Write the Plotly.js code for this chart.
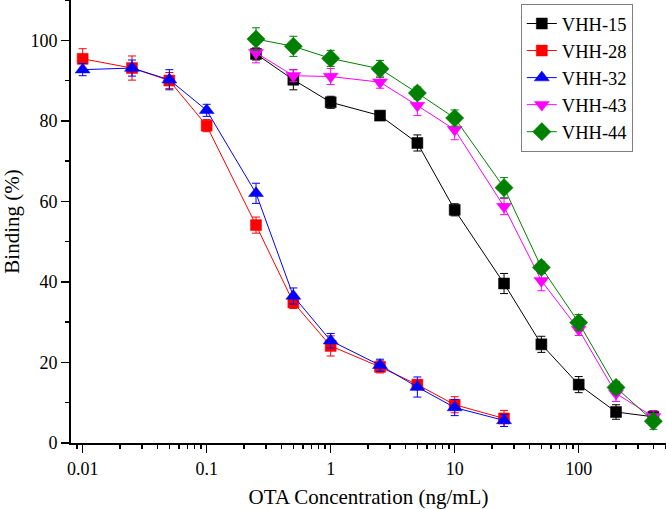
<!DOCTYPE html>
<html>
<head>
<meta charset="utf-8">
<script src="https://cdn.plot.ly/plotly-3.0.1.min.js"></script>
<style>html,body{margin:0;padding:0;background:#fff;}#chart{width:666px;height:509px;}</style>
</head>
<body>
<div id="chart"></div>
<script>
// Concentrations (ng/mL)
const concLow = [0.01, 0.025, 0.05, 0.1, 0.25, 0.5, 1, 2.5, 5, 10, 25];
const concHigh = [0.25, 0.5, 1, 2.5, 5, 10, 25, 50, 100, 200, 400];

const vhh15 = [96.6, 90.2, 84.6, 81.3, 74.5, 57.9, 39.6, 24.5, 14.5, 7.7, 6.5];
const vhh15Err = [1.5, 2.5, 1.5, 1.0, 2.0, 1.5, 2.5, 2.0, 2.0, 1.8, 1.5];

const vhh28 = [95.4, 93.1, 90.0, 78.8, 54.1, 34.9, 24.1, 18.9, 14.5, 9.5, 6.1];
const vhh28Err = [2.5, 3.0, 2.0, 1.5, 2.0, 1.5, 2.5, 1.5, 1.0, 2.0, 2.0];

const vhh32 = [92.7, 93.1, 90.2, 82.6, 62.0, 36.5, 25.4, 19.3, 13.9, 8.8, 5.6];
const vhh32Err = [1.5, 2.0, 2.5, 1.5, 2.5, 2.0, 1.8, 1.5, 2.5, 2.0, 1.5];

const vhh43 = [96.9, 91.2, 91.0, 89.6, 83.8, 77.8, 58.7, 40.3, 28.2, 12.3, 6.5];
const vhh43Err = [2.5, 1.5, 2.0, 1.5, 2.5, 2.5, 2.0, 2.5, 1.5, 2.0, 1.5];

const vhh44 = [100.3, 98.5, 95.5, 92.9, 86.9, 80.7, 63.4, 43.6, 29.9, 13.8, 5.4];
const vhh44Err = [2.8, 2.5, 2.0, 2.1, 1.5, 2.0, 2.5, 1.5, 2.0, 1.5, 2.0];

const xTicks = [0.01, 0.1, 1, 10, 100];
const xTickText = ['0.01', '0.1', '1', '10', '100'];

const FONT = 'Liberation Serif';

function series(name, x, y, err, color, symbol, size) {
  return {
    type: 'scatter', mode: 'lines+markers', name: name, x: x, y: y,
    line: {color: color, width: 1},
    marker: {color: color, symbol: symbol, size: size, line: {color: color, width: 0.5}},
    error_y: {type: 'data', array: err, visible: true, color: color, thickness: 1, width: 4},
    cliponaxis: false
  };
}

const traces = [
  series('VHH-15', concHigh, vhh15, vhh15Err, '#000000', 'square', 11),
  series('VHH-28', concLow, vhh28, vhh28Err, '#ff0000', 'square', 11),
  series('VHH-32', concLow, vhh32, vhh32Err, '#0000ff', 'triangle-up', 13),
  series('VHH-43', concHigh, vhh43, vhh43Err, '#ff00ff', 'triangle-down', 13),
  series('VHH-44', concHigh, vhh44, vhh44Err, '#008000', 'diamond', 14)
];

// minor ticks on log axis: 2..9 in every decade
const minorVals = [];
for (let e = -3; e <= 2; e++) {
  for (let m = 2; m <= 9; m++) minorVals.push(m * Math.pow(10, e));
}

const layout = {
  width: 666, height: 509,
  margin: {l: 71, r: 0, t: 0, b: 66},
  paper_bgcolor: '#ffffff', plot_bgcolor: '#ffffff',
  font: {family: FONT, color: '#000'},
  showlegend: true,
  xaxis: {
    type: 'log', range: [-2.094, 2.704],
    tickmode: 'array', tickvals: xTicks, ticktext: xTickText,
    ticks: 'outside', ticklen: 8, tickwidth: 1.5, tickcolor: '#000',
    minor: {tickmode: 'array', tickvals: minorVals, ticks: 'outside', ticklen: 4, tickwidth: 1.5, tickcolor: '#000', showgrid: false},
    showline: true, linecolor: '#000', linewidth: 2,
    showgrid: false, zeroline: false,
    tickfont: {family: FONT, size: 18, color: '#000'},
    title: {text: 'OTA Concentration (ng/mL)', font: {family: FONT, size: 21, color: '#000'}, standoff: 14}
  },
  yaxis: {
    range: [0, 110], tickmode: 'linear', tick0: 0, dtick: 20,
    ticks: 'outside', ticklen: 8, tickwidth: 1.5, tickcolor: '#000',
    minor: {dtick: 10, ticks: 'outside', ticklen: 4, tickwidth: 1.5, tickcolor: '#000', showgrid: false},
    showline: true, linecolor: '#000', linewidth: 2,
    showgrid: false, zeroline: false,
    tickfont: {family: FONT, size: 18, color: '#000'},
    title: {text: 'Binding (%)', font: {family: FONT, size: 21, color: '#000'}, standoff: 12}
  },
  legend: {
    x: 0.756, y: 0.991, xanchor: 'left', yanchor: 'top',
    bgcolor: '#ffffff', bordercolor: '#7f7f7f', borderwidth: 1,
    font: {family: FONT, size: 18.5, color: '#000'},
    tracegroupgap: 0
  }
};

Plotly.newPlot('chart', traces, layout, {displayModeBar: false, staticPlot: true});
</script>
</body>
</html>
